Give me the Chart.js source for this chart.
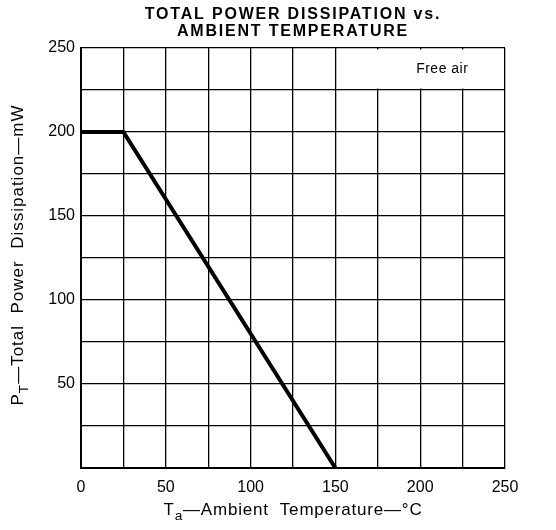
<!DOCTYPE html>
<html>
<head>
<meta charset="utf-8">
<script src="https://cdn.jsdelivr.net/npm/chart.js@4"></script>
<style>
  html, body { margin: 0; padding: 0; background: #fff; }
  #wrap { width: 556px; height: 530px; }
</style>
</head>
<body>
<div id="wrap"><canvas id="chart"></canvas></div>
<script>
// ambient temperature (°C) and total power dissipation (mW)
const temps = [0, 25, 150];
const power = [200, 200, 0];

const xTicks = [0, 50, 100, 150, 200, 250];
const yTicks = [50, 100, 150, 200, 250];

const titleLines = ['TOTAL POWER DISSIPATION vs.', 'AMBIENT TEMPERATURE'];
const noteText = 'Free air';

const FONT = '"Liberation Sans", Arial, sans-serif';

// draw text with a subscript part: [main, sub, rest]
function subText(ctx, parts, x, y, size, spacing) {
  ctx.letterSpacing = spacing + 'px';
  ctx.font = size + 'px ' + FONT;
  const w0 = ctx.measureText(parts[0]).width;
  const w2 = ctx.measureText(parts[2]).width;
  ctx.font = (size * 0.8) + 'px ' + FONT;
  const w1 = ctx.measureText(parts[1]).width;
  let cx = x - (w0 + w1 + w2) / 2;
  ctx.textAlign = 'left';
  ctx.textBaseline = 'middle';
  ctx.font = size + 'px ' + FONT;
  ctx.fillText(parts[0], cx, y);
  cx += w0;
  ctx.font = (size * 0.8) + 'px ' + FONT;
  ctx.fillText(parts[1], cx, y + size * 0.35);
  cx += w1;
  ctx.font = size + 'px ' + FONT;
  ctx.fillText(parts[2], cx, y);
  ctx.letterSpacing = '0px';
}

const decor = {
  id: 'decor',
  beforeDatasetsDraw(chart) {
    const ctx = chart.ctx;
    const xs = chart.scales.x, ys = chart.scales.y;
    // blank box in the top-right cells for the note
    const l = xs.getPixelForValue(150) + 1.5;
    const r = xs.getPixelForValue(250) - 1.5;
    const t = ys.getPixelForValue(250) + 1.5;
    const b = ys.getPixelForValue(225) - 1.5;
    ctx.save();
    ctx.fillStyle = '#fff';
    ctx.fillRect(l, t, r - l, b - t);
    ctx.fillStyle = '#000';
    ctx.font = '14px ' + FONT;
    ctx.letterSpacing = '0.5px';
    ctx.textAlign = 'center';
    ctx.textBaseline = 'middle';
    ctx.fillText(noteText, xs.getPixelForValue(213), (t + b) / 2);
    ctx.restore();
  },
  afterDraw(chart) {
    const ctx = chart.ctx;
    const a = chart.chartArea;
    ctx.save();
    ctx.fillStyle = '#000';
    // title
    ctx.font = 'bold 16px ' + FONT;
    ctx.letterSpacing = '1.8px';
    ctx.textAlign = 'center';
    ctx.textBaseline = 'middle';
    ctx.fillText(titleLines[0], (a.left + a.right) / 2, 15);
    ctx.fillText(titleLines[1], (a.left + a.right) / 2, 32);
    // x title
    subText(ctx, ['T', 'a', '\u2014Ambient  Temperature\u2014\u00b0C'], (a.left + a.right) / 2, 510, 17, 0.8);
    // y title
    ctx.translate(18, (a.top + a.bottom) / 2 - 3);
    ctx.rotate(-Math.PI / 2);
    subText(ctx, ['P', 'T', '\u2014Total  Power  Dissipation\u2014mW'], 0, 0, 17, 1);
    ctx.restore();
  }
};

new Chart(document.getElementById('chart'), {
  type: 'line',
  data: {
    datasets: [{
      data: temps.map((t, i) => ({ x: t, y: power[i] })),
      borderColor: '#000',
      borderWidth: 4,
      pointRadius: 0,
      tension: 0,
      fill: false
    }]
  },
  options: {
    responsive: true,
    maintainAspectRatio: false,
    animation: false,
    layout: { padding: { top: 48, right: 51, left: 0, bottom: 0 } },
    plugins: { legend: { display: false }, tooltip: { enabled: false } },
    scales: {
      x: {
        type: 'linear',
        min: 0, max: 250,
        afterFit: s => { s.height = 62; },
        ticks: {
          stepSize: 25,
          color: '#000',
          font: { size: 16, family: FONT },
          padding: 10,
          maxRotation: 0,
          callback: v => xTicks.includes(v) ? String(v) : ''
        },
        grid: { color: '#000', lineWidth: 1.3, drawTicks: false },
        border: { color: '#000', width: 2 }
      },
      y: {
        min: 0, max: 250,
        afterFit: s => { s.width = 81; },
        ticks: {
          stepSize: 25,
          color: '#000',
          font: { size: 16, family: FONT },
          padding: 6,
          callback: v => yTicks.includes(v) ? String(v) : ''
        },
        grid: { color: '#000', lineWidth: 1.3, drawTicks: false },
        border: { color: '#000', width: 2 }
      }
    }
  },
  plugins: [decor]
});
</script>
</body>
</html>
